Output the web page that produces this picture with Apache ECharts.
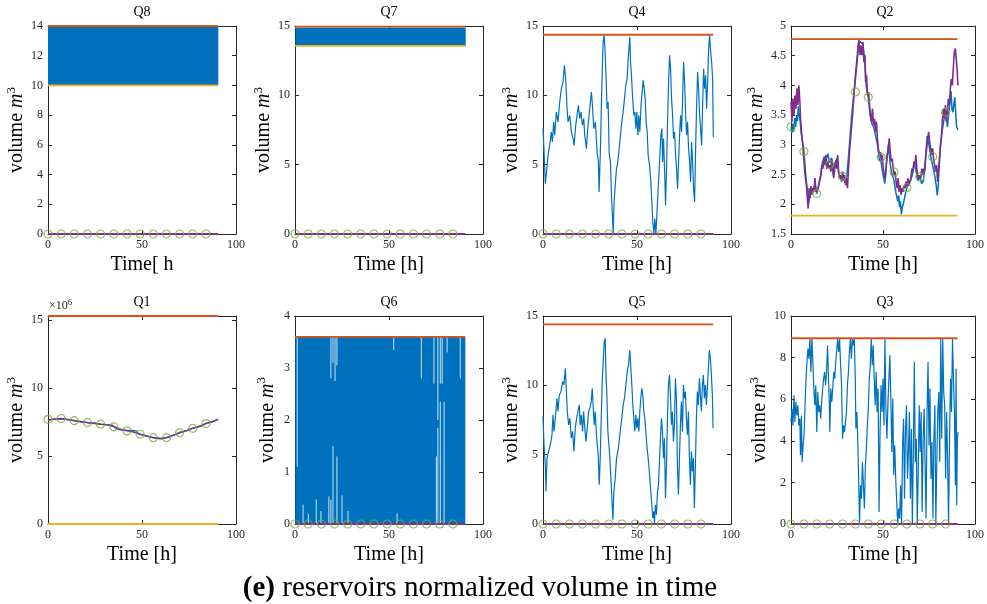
<!DOCTYPE html>
<html><head><meta charset="utf-8">
<script src="https://cdn.jsdelivr.net/npm/echarts@6/dist/echarts.min.js"></script>
<style>html,body{margin:0;padding:0;background:#fff}#c{width:987px;height:604px}</style>
</head><body><div id="c"></div>
<script>
// ---------------- DATA ----------------
const panelNames = ['Q8','Q7','Q4','Q2','Q1','Q6','Q5','Q3'];
const xNames = ['Time[ h','Time [h]','Time [h]','Time [h]','Time [h]','Time [h]','Time [h]','Time [h]'];
const yMin = [0,0,0,1.5,0,0,0,0];
const yMax = [14,15,15,5,15.3e6,4,15,10];
const yStep = [2,5,5,0.5,5e6,1,5,2];
const upperLimit = [14,14.95,14.37,4.78,15.3e6,3.6,14.4,8.93];
const lowerLimit = [10,13.56,0,1.81,0,0,0,0];
const endTime = 90.5;
const markTimes = [0,7,14,21,28,35,42,49,56,63,70,77,84];

// dense oscillation bands [t0, low, t1, high]
const q8Band = [[0,10,90.6,14]];
const q7Band = [[0.3,13.56,90.8,14.9]];
const q6Band = [[0.2,0,90.6,3.6]];
// light streaks inside the Q6 band [t, from, to]
const q6Gaps = [[1.2,1.1,3.6],[4.3,0,0.37],[7.1,0,0.2],[11.3,0,0.47],[13.8,0,0.25],[18,0,0.53],
  [19.1,2.8,3.6],[19.1,0,0.47],[20.2,3.1,3.6],[20.2,0,1.5],[21.3,2.75,3.6],[22.3,3.05,3.6],[22.3,0,1.3],
  [25,0,0.55],[28.2,0,0.25],[52.5,3.35,3.6],[54.3,0,0.2],[67.2,2.8,3.6],[73.9,2.7,3.6],[75.2,0,1.3],
  [76,2.0,3.6],[76,0,1.85],[77.3,2.7,3.6],[77.3,0,2.35],[78.3,2.7,3.6],[79.3,0,2.35],[80.9,3.3,3.6],[87.9,2.8,3.6]];

const q4Volume = [[0,7.6],[0.5,6.15],[1.24,3.63],[1.78,4.35],[2.66,5.67],[3.55,6.39],[4.44,7.36],[4.97,6.63],[5.68,8.08],[6.22,7.12],[7.1,8.8],[7.99,8.08],[8.88,9.52],[9.77,10.48],[10.66,10.96],[11.37,12.16],[12.08,11.2],[12.79,9.04],[13.32,8.08],[14.21,8.56],[15.1,7.36],[15.99,6.88],[16.52,6.39],[17.41,7.84],[18.12,8.56],[18.83,9.28],[19.54,8.32],[20.25,8.8],[20.96,7.84],[21.67,8.32],[22.2,7.12],[23.09,6.15],[23.62,7.36],[24.51,8.56],[25.22,9.52],[25.75,10.24],[26.29,9.28],[27,7.6],[27.89,8.08],[28.77,5.91],[29.48,5.19],[29.84,3.03],[30.55,6.15],[31.26,10.48],[31.97,13.85],[32.5,14.37],[33.04,13.13],[33.57,11.2],[34.1,9.04],[34.64,9.52],[35.17,5.91],[35.88,5.19],[36.41,2.79],[36.94,1.35],[37.3,0],[37.83,2.31],[38.54,3.75],[39.08,4.71],[39.79,5.19],[40.5,6.15],[41.21,7.12],[41.92,8.08],[42.63,8.8],[43.34,9.76],[44.05,10.72],[44.76,11.2],[45.29,12.64],[46.18,14.21],[46.54,12.4],[47.07,11.44],[47.6,10],[48.31,8.56],[48.85,8.8],[49.38,7.6],[49.91,8.8],[50.44,7.12],[50.98,8.56],[51.51,7.36],[52.04,9.04],[52.58,10],[53.29,11.08],[53.82,10.48],[54.35,9.76],[54.88,8.08],[55.42,7.36],[55.95,5.67],[56.66,4.95],[57.37,3.75],[57.9,2.31],[58.44,0.87],[58.97,0],[59.5,1.11],[60.04,0],[60.57,1.35],[61.1,2.79],[61.63,4.23],[62.17,5.67],[62.7,7.12],[63.23,7.6],[63.59,5.19],[64.12,6.88],[64.65,4.71],[65.19,2.07],[65.72,4.71],[66.25,8.08],[66.79,10.96],[67.32,12.88],[67.85,11.92],[68.38,9.76],[68.92,8.56],[69.45,6.88],[69.98,7.36],[70.52,5.67],[71.05,4.71],[71.58,3.27],[72.11,5.19],[72.65,7.12],[73.18,8.56],[73.71,7.36],[74.25,9.76],[74.78,12.4],[75.31,10.96],[75.84,8.8],[76.38,7.12],[76.91,8.08],[77.44,6.15],[77.98,5.19],[78.51,3.75],[79.04,6.63],[79.57,5.19],[80.11,3.27],[80.64,2.31],[81.17,6.15],[81.71,9.28],[82.24,11.68],[82.77,10.48],[83.3,8.56],[83.84,7.6],[84.37,6.39],[84.9,9.28],[85.44,11.92],[85.97,10.48],[86.5,11.44],[87.03,9.04],[87.57,10.96],[88.1,13.37],[88.63,14.33],[89.17,13.13],[89.7,12.4],[90.23,11.2],[90.59,7.0]];

const q5Volume = [[0,7.75],[0.53,5.71],[1.24,4.27],[1.59,2.35],[2.12,4.75],[3.01,5.23],[3.89,5.71],[4.78,6.43],[5.31,7.87],[5.84,6.67],[6.55,7.63],[7.43,9.07],[7.96,8.11],[8.67,9.31],[9.56,9.55],[10.44,10.27],[11.15,10.03],[11.86,11.23],[12.39,9.79],[12.92,8.11],[13.63,7.15],[14.34,7.63],[15.04,6.19],[15.75,6.67],[16.46,5.23],[17.17,6.91],[17.88,7.63],[18.58,8.11],[19.29,8.59],[19.82,7.15],[20.35,7.87],[21.06,6.67],[21.59,8.11],[22.12,7.15],[22.83,5.95],[23.54,6.91],[24.25,8.11],[24.96,8.35],[25.66,8.83],[26.19,9.79],[26.73,8.35],[27.26,7.15],[27.79,8.11],[28.32,6.67],[28.85,5.71],[29.38,4.99],[29.91,2.83],[30.44,4.75],[30.97,7.63],[31.5,10.27],[32.04,11.71],[32.57,13.15],[33.1,13.39],[33.45,10.99],[33.98,9.31],[34.51,6.67],[35.04,5.71],[35.58,4.75],[36.11,3.31],[36.64,1.87],[37.17,0.31],[37.7,2.35],[38.41,3.31],[39.12,4.75],[39.82,5.23],[40.53,5.95],[41.24,6.91],[41.95,7.63],[42.65,8.59],[43.36,9.07],[44.07,10.03],[44.78,10.99],[45.49,11.47],[46.19,12.55],[46.73,11.23],[47.26,10.03],[47.79,8.59],[48.32,7.63],[48.85,6.67],[49.38,7.87],[49.91,6.91],[50.44,7.63],[50.97,6.67],[51.5,8.11],[52.04,9.07],[52.57,9.79],[53.1,9.31],[53.63,8.11],[54.16,7.63],[54.69,6.67],[55.22,5.71],[55.75,4.99],[56.28,4.27],[56.81,3.31],[57.35,2.35],[57.88,1.39],[58.41,0.43],[58.94,0.91],[59.29,0.07],[59.82,1.39],[60.35,0.67],[60.88,2.35],[61.42,2.83],[61.95,4.51],[62.48,6.19],[63.01,7.63],[63.54,6.67],[64.07,4.75],[64.6,6.19],[65.13,1.87],[65.66,4.03],[66.19,7.63],[66.73,10.03],[67.26,10.75],[67.79,9.31],[68.32,7.15],[68.85,8.11],[69.38,5.95],[69.91,7.15],[70.44,10.51],[70.97,9.07],[71.5,4.27],[72.04,2.11],[72.57,4.75],[73.1,7.15],[73.63,8.83],[74.16,6.67],[74.69,10.03],[75.22,9.07],[75.75,9.55],[76.28,7.63],[76.81,6.43],[77.35,8.11],[77.88,4.75],[78.41,2.83],[78.94,5.23],[79.47,3.79],[80,4.75],[80.53,1.15],[81.06,4.27],[81.59,7.63],[82.12,9.55],[82.65,8.59],[83.19,10.51],[83.72,9.31],[84.25,8.11],[84.78,10.03],[85.31,10.75],[85.84,9.07],[86.37,10.03],[86.9,8.59],[87.43,9.79],[87.96,11.23],[88.5,12.55],[89.03,11.95],[89.56,10.75],[90.09,9.31],[90.44,6.91]];

const q3Volume = [[0,4.9],[0.53,5.54],[1.06,4.74],[1.6,6.19],[2.13,4.9],[2.66,5.87],[3.19,5.22],[3.72,5.71],[4.26,4.74],[4.79,5.06],[5.14,3.3],[5.67,5.22],[6.03,2.98],[6.56,3.78],[7.09,4.26],[7.62,5.71],[8.16,6.99],[8.69,7.79],[9.22,8.43],[9.75,7.95],[10.28,8.91],[10.82,7.31],[11.35,8.91],[11.88,7.79],[12.41,6.51],[12.94,5.71],[13.48,6.67],[14.01,4.42],[14.54,6.35],[15.07,5.38],[15.6,5.71],[16.13,5.06],[16.67,5.87],[17.2,6.51],[17.73,6.99],[18.26,7.31],[18.79,6.67],[19.33,7.31],[19.86,8.59],[20.39,6.99],[20.74,6.03],[21.1,4.42],[21.63,6.51],[22.16,5.87],[22.7,6.51],[23.23,7.31],[23.76,6.99],[24.29,7.79],[24.82,8.27],[25.35,8.91],[25.89,8.27],[26.42,8.91],[26.95,7.63],[27.48,6.67],[28.01,4.1],[28.55,4.74],[29.08,4.42],[29.61,4.9],[30.14,5.38],[30.67,6.67],[31.21,7.31],[31.74,8.27],[32.27,8.91],[32.8,7.95],[33.33,8.91],[33.87,8.59],[34.4,8.91],[34.93,6.99],[35.28,4.58],[35.82,5.38],[36.35,3.78],[36.88,1.7],[37.23,0],[37.77,1.86],[38.3,1.22],[38.83,2.98],[39.36,1.86],[39.89,0.74],[40.43,2.82],[40.96,3.62],[41.49,4.74],[42.02,5.54],[42.55,6.99],[43.09,7.63],[43.62,8.91],[44.15,7.63],[44.68,8.59],[45.21,6.99],[45.74,5.71],[46.28,7.31],[46.81,5.38],[47.34,6.51],[47.87,0.58],[48.4,4.42],[48.94,6.67],[49.47,5.38],[50,6.99],[50.53,4.74],[51.06,8.91],[51.6,5.54],[52.13,4.1],[52.66,5.71],[53.19,6.99],[53.72,8.11],[54.26,6.03],[54.79,3.46],[55.32,6.03],[55.85,2.34],[56.38,3.78],[56.91,2.18],[57.45,1.06],[57.98,0],[58.51,0.74],[59.04,0.26],[59.57,1.86],[60.11,0],[60.64,3.78],[61.17,5.06],[61.7,1.22],[62.23,4.58],[62.77,5.71],[63.3,2.18],[63.83,3.46],[64.36,5.38],[64.89,1.22],[65.43,4.58],[65.96,0],[66.49,3.46],[67.02,7.79],[67.55,2.98],[68.09,4.1],[68.62,0],[69.15,2.5],[69.68,5.71],[70.21,3.46],[70.74,5.38],[71.28,0.58],[71.81,4.1],[72.34,5.54],[72.87,2.82],[73.4,0.26],[73.94,5.38],[74.47,7.79],[75,3.78],[75.53,6.51],[76.06,2.18],[76.6,3.94],[77.13,0.26],[77.66,4.1],[78.19,5.71],[78.72,0],[79.26,3.14],[79.79,5.38],[80.32,6.35],[80.85,2.98],[81.38,8.91],[81.91,4.1],[82.45,8.91],[82.98,6.35],[83.51,5.71],[84.04,2.18],[84.57,5.38],[85.11,3.14],[85.64,0],[86.17,4.1],[86.7,6.99],[87.23,5.38],[87.77,8.91],[88.3,6.99],[88.83,5.38],[89.36,1.86],[89.72,7.47],[90.07,0.9],[90.43,4.1],[90.78,4.42]];

const q2Volume = [[0,3.3],[0.5,3.2],[1,3.35],[1.5,3.22],[2,3.45],[2.5,3.3],[3,3.5],[3.5,3.4],[4,3.65],[4.5,3.5],[5,3.4],[5.5,3.2],[6,3.1],[7,2.89],[8,2.5],[9,2.2],[9.5,2.0],[10,2.1],[11,2.3],[12,2.2],[13,2.35],[14,2.18],[15,2.3],[16,2.45],[17,2.7],[18,2.8],[19,2.75],[20,2.85],[21,2.7],[22,2.78],[23,2.55],[24,2.7],[25,2.78],[26,2.5],[27,2.45],[28,2.47],[29,2.4],[30,2.35],[31,2.7],[33,3.5],[35,4.1],[37,4.75],[39,4.7],[40,4.45],[41,3.95],[42,3.8],[43,3.5],[44,3.35],[45,3.3],[46,3.15],[47,3.0],[48,2.75],[49,2.7],[50,2.5],[51,2.35],[52,2.75],[53,3.0],[54,2.65],[55,2.5],[56,2.4],[57,2.2],[58,2.05],[58.5,2.15],[59,1.95],[59.5,2.05],[60,1.83],[60.5,1.95],[61,2.0],[62,2.15],[63,2.28],[64,2.3],[65,2.4],[66,2.5],[67,2.7],[68,2.55],[69,2.4],[70,2.46],[71,2.35],[72,2.4],[73,2.75],[74,3.15],[75,3.0],[76,2.8],[77,2.8],[78,2.5],[79,2.3],[79.5,2.15],[80,2.3],[81,2.9],[82,3.2],[83,3.4],[84,3.55],[85,3.3],[86,3.6],[87,3.9],[87.5,3.6],[88,3.55],[89,3.8],[90,3.3],[90.7,3.25]];

const q2Model = [[0,3.72],[0.54,3.39],[1.07,3.78],[1.61,3.5],[2.14,3.83],[2.68,3.61],[3.21,3.95],[3.75,3.67],[4.29,4.0],[4.82,3.72],[5.18,3.44],[5.71,3.22],[6.25,3.05],[6.79,2.83],[7.32,2.6],[7.86,2.44],[8.39,2.32],[8.75,2.16],[9.29,1.93],[9.82,2.27],[10.36,2.1],[10.89,2.3],[11.43,2.16],[11.96,2.27],[12.5,2.21],[13.04,2.44],[13.57,2.21],[14.11,2.18],[14.64,2.27],[15.18,2.27],[15.71,2.44],[16.25,2.49],[16.79,2.66],[17.32,2.6],[17.86,2.77],[18.39,2.66],[18.93,2.83],[19.46,2.6],[20,2.72],[20.54,2.6],[21.07,2.66],[21.61,2.55],[22.14,2.77],[22.68,2.55],[23.21,2.44],[23.75,2.6],[24.29,2.72],[24.82,2.6],[25.36,2.83],[25.89,2.55],[26.43,2.44],[26.96,2.49],[27.5,2.38],[28.04,2.55],[28.57,2.44],[29.11,2.49],[29.64,2.32],[30.18,2.44],[30.71,2.27],[31.25,2.6],[31.79,2.88],[32.68,3.22],[33.57,3.55],[34.46,3.95],[35.18,4.23],[35.89,4.45],[36.43,4.67],[36.96,4.76],[37.5,4.51],[38.04,4.67],[38.57,4.51],[39.11,4.73],[39.64,4.39],[40.18,4.51],[40.54,4.06],[41.07,4.17],[41.61,3.83],[42.14,3.89],[42.68,3.67],[43.21,3.5],[43.75,3.39],[44.29,3.61],[44.82,3.33],[45.36,3.44],[45.89,3.22],[46.43,3.39],[46.96,3.11],[47.5,2.94],[48.04,2.83],[48.57,2.88],[49.11,2.72],[49.64,2.83],[50.18,2.6],[50.71,2.49],[51.25,2.44],[51.79,2.66],[52.32,2.83],[52.86,2.94],[53.39,3.11],[53.93,2.88],[54.46,2.72],[55,2.77],[55.54,2.6],[56.07,2.49],[56.61,2.55],[57.14,2.38],[57.68,2.27],[58.21,2.44],[58.75,2.21],[59.29,2.32],[59.82,2.16],[60.36,2.27],[60.89,2.21],[61.43,2.32],[61.96,2.27],[62.5,2.38],[63.04,2.3],[63.57,2.44],[64.11,2.32],[64.64,2.38],[65.18,2.44],[65.71,2.6],[66.25,2.55],[66.79,2.72],[67.32,2.66],[67.86,2.83],[68.39,2.6],[68.93,2.44],[69.46,2.49],[70,2.49],[70.54,2.44],[71.07,2.6],[71.61,2.49],[72.14,2.6],[72.68,2.55],[73.21,2.77],[73.75,2.94],[74.29,3.11],[74.82,3.22],[75.36,3.05],[75.89,2.94],[76.43,2.83],[76.96,2.94],[77.5,2.77],[78.04,2.66],[78.57,2.55],[79.11,2.66],[79.64,2.38],[80.18,2.6],[80.71,2.77],[81.25,3.0],[81.79,3.16],[82.32,3.44],[82.86,3.61],[83.39,3.44],[83.93,3.67],[84.46,3.39],[85,3.55],[85.54,3.78],[86.07,3.67],[86.61,3.95],[87.14,4.11],[87.68,4.0],[88.21,4.28],[88.75,4.56],[89.29,4.62],[89.82,4.45],[90.36,4.23],[90.71,4.0]];
const q2Marks = [3.3,2.89,2.18,2.67,2.47,3.89,3.8,2.79,2.54,2.28,2.46,2.8,3.55];

const q1Volume = [[0,7.6e6],[2,7.7e6],[7,7.74e6],[10,7.68e6],[14,7.6e6],[18,7.5e6],[21,7.46e6],[25,7.4e6],[28,7.34e6],[32,7.3e6],[34,7.28e6],[35,7.15e6],[37,6.95e6],[38,6.88e6],[41,6.88e6],[42,6.9e6],[45,6.88e6],[47,6.86e6],[48,6.65e6],[49,6.58e6],[53,6.45e6],[56,6.35e6],[60,6.28e6],[63,6.35e6],[67,6.55e6],[70,6.72e6],[74,6.88e6],[77,7.04e6],[81,7.2e6],[84,7.39e6],[88,7.55e6],[90.5,7.7e6]];
const q1Model = [[0,7.65e6],[3,7.7e6],[7,7.75e6],[10,7.7e6],[14,7.6e6],[18,7.52e6],[21,7.46e6],[25,7.4e6],[28,7.34e6],[32,7.28e6],[34,7.22e6],[35,7.12e6],[38,6.98e6],[42,6.86e6],[45,6.78e6],[47,6.72e6],[49,6.6e6],[53,6.45e6],[56,6.35e6],[60,6.28e6],[63,6.35e6],[67,6.55e6],[70,6.72e6],[74,6.88e6],[77,7.04e6],[81,7.2e6],[84,7.39e6],[88,7.55e6],[90.5,7.7e6]];
const q1Marks = [7.7e6,7.76e6,7.6e6,7.46e6,7.34e6,7.14e6,6.85e6,6.6e6,6.35e6,6.35e6,6.72e6,7.04e6,7.39e6];

// ---------------- STYLE / LAYOUT ----------------
const FONT = 'Liberation Serif';
const C_BLUE = '#0072BD', C_RED = '#D95319', C_YEL = '#EDB120', C_PUR = '#7E2F8E', C_GRN = '#77AC30', C_AX = '#262626';
const colLeft = [48, 295, 543, 791];
const rowTop = [26, 316];
const W = 188, H = 208;

const grids = [], xAxes = [], yAxes = [], series = [], graphics = [];

panelNames.forEach((name, i) => {
  const left = colLeft[i % 4], top = rowTop[Math.floor(i / 4)];
  grids.push({left, top, width: W, height: H, containLabel: false});
  const tickStyle = {show: true, inside: true, length: 4, lineStyle: {color: C_AX, width: 1}};
  const lineStyle = {show: true, onZero: false, lineStyle: {color: C_AX, width: 1}};
  xAxes.push({type: 'value', gridIndex: i, min: 0, max: 100, interval: 50, position: 'bottom',
    axisLine: lineStyle, axisTick: tickStyle, splitLine: {show: false},
    axisLabel: {fontFamily: FONT, fontSize: 12, color: C_AX, margin: 5},
    name: xNames[i], nameLocation: 'middle', nameGap: 21,
    nameTextStyle: {fontFamily: FONT, fontSize: 20, color: '#000'}});
  xAxes.push({type: 'value', gridIndex: i, min: 0, max: 100, interval: 50, position: 'top',
    axisLine: lineStyle, axisTick: tickStyle, splitLine: {show: false}, axisLabel: {show: false}});
  const isQ1 = name === 'Q1';
  yAxes.push({type: 'value', gridIndex: i, min: yMin[i], max: yMax[i], interval: yStep[i], position: 'left',
    axisLine: lineStyle, axisTick: tickStyle, splitLine: {show: false},
    axisLabel: {fontFamily: FONT, fontSize: 12, color: C_AX, margin: 5, showMaxLabel: !isQ1,
      formatter: isQ1 ? (v => String(Math.round(v / 1e6))) : null},
    name: 'volume {i|m}{s|3}', nameLocation: 'middle', nameGap: 15, nameRotate: 90,
    nameTextStyle: {fontFamily: FONT, fontSize: 20, color: '#000',
      rich: {i: {fontFamily: FONT, fontSize: 20, fontStyle: 'italic', color: '#000'},
             s: {fontFamily: FONT, fontSize: 13, color: '#000', padding: [0, 0, 12, 0]}}}});
  yAxes.push({type: 'value', gridIndex: i, min: yMin[i], max: yMax[i], interval: yStep[i], position: 'right',
    axisLine: lineStyle, axisTick: tickStyle, splitLine: {show: false}, axisLabel: {show: false}});
  graphics.push({type: 'text', x: left + W / 2, y: top - 21, style: {text: name, fontFamily: FONT, fontSize: 14, fill: '#000', textAlign: 'center'}});
});

const ax = i => ({xAxisIndex: 2 * i, yAxisIndex: 2 * i});
function lineS(i, data, color, width) {
  return Object.assign({type: 'line', data, symbol: 'none', showSymbol: false, silent: true, animation: false,
    lineStyle: {color, width}, itemStyle: {color}, z: 2}, ax(i));
}
function bandS(i, data, color) {
  return Object.assign({type: 'custom', data, silent: true, animation: false, encode: {x: [0, 2], y: [1, 3]}, z: 2,
    renderItem: (p, api) => {
      const a = api.coord([api.value(0), api.value(1)]);
      const b = api.coord([api.value(2), api.value(3)]);
      return {type: 'rect', shape: {x: a[0], y: b[1], width: b[0] - a[0], height: a[1] - b[1]}, style: {fill: color}};
    }}, ax(i));
}
function gapS(i, data) {
  return Object.assign({type: 'custom', data, silent: true, animation: false, encode: {x: 0, y: [1, 2]}, z: 2,
    renderItem: (p, api) => {
      const a = api.coord([api.value(0), api.value(1)]);
      const b = api.coord([api.value(0), api.value(2)]);
      return {type: 'line', shape: {x1: a[0], y1: a[1], x2: b[0], y2: b[1]}, style: {stroke: 'rgba(235,243,250,0.85)', lineWidth: 1}};
    }}, ax(i));
}
function marksS(i, vals) {
  return Object.assign({type: 'scatter', data: markTimes.map((t, k) => [t, vals[k]]), symbol: 'circle', symbolSize: 8,
    silent: true, animation: false, z: 3,
    itemStyle: {color: 'rgba(0,0,0,0)', borderColor: C_GRN, borderWidth: 1.2}}, ax(i));
}
const flat = v => [[0, v], [endTime, v]];
const zeros = markTimes.map(() => 0);

const volumeByPanel = {
  Q8: i => [bandS(i, q8Band, C_BLUE)],
  Q7: i => [bandS(i, q7Band, C_BLUE)],
  Q4: i => [lineS(i, q4Volume, C_BLUE, 1.2)],
  Q2: i => [lineS(i, q2Volume, C_BLUE, 1.5)],
  Q1: i => [lineS(i, q1Volume, C_BLUE, 1.2)],
  Q6: i => [bandS(i, q6Band, C_BLUE), gapS(i, q6Gaps)],
  Q5: i => [lineS(i, q5Volume, C_BLUE, 1.2)],
  Q3: i => [lineS(i, q3Volume, C_BLUE, 1.2)]
};
const modelByPanel = {Q2: q2Model, Q1: q1Model};
const marksByPanel = {Q2: q2Marks, Q1: q1Marks};

panelNames.forEach((name, i) => {
  volumeByPanel[name](i).forEach(s => series.push(s));
  series.push(lineS(i, flat(upperLimit[i]), C_RED, 1.8));
  series.push(lineS(i, flat(lowerLimit[i]), C_YEL, 1.8));
  series.push(lineS(i, modelByPanel[name] || flat(0), C_PUR, modelByPanel[name] ? 1.6 : 1.8));
  series.push(marksS(i, marksByPanel[name] || zeros));
});

// exponent for Q1
graphics.push({type: 'text', x: 49, y: 298, style: {text: '×10{s|6}', fontFamily: FONT, fontSize: 12, fill: C_AX,
  rich: {s: {fontFamily: FONT, fontSize: 9, fill: C_AX, padding: [0, 0, 6, 0]}}}});
// caption
graphics.push({type: 'text', x: 480, y: 574, style: {text: '{b|(e)} reservoirs normalized volume in time', textAlign: 'center',
  fontFamily: FONT, fontSize: 29, fill: '#000', rich: {b: {fontFamily: FONT, fontSize: 29, fontWeight: 'bold', fill: '#000'}}}});

const chart = echarts.init(document.getElementById('c'), null, {renderer: 'canvas'});
chart.setOption({animation: false, backgroundColor: '#fff', grid: grids, xAxis: xAxes, yAxis: yAxes, series, graphic: graphics});
</script></body></html>
